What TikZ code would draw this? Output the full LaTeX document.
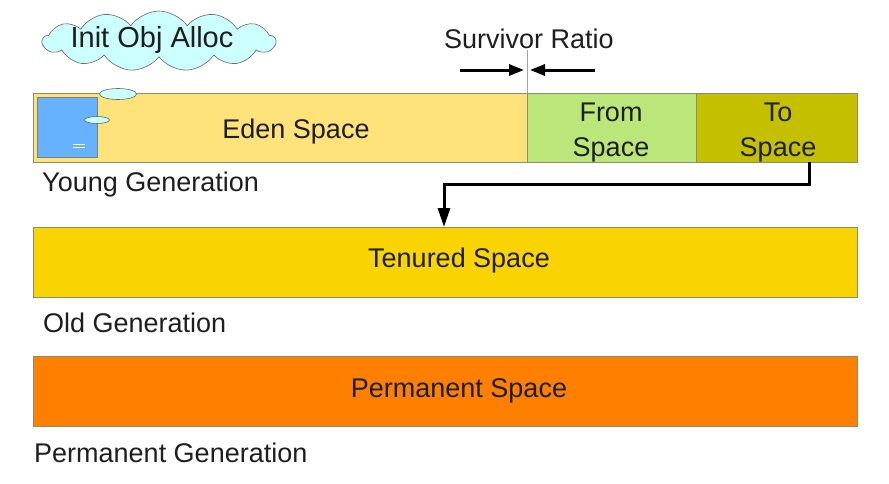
\documentclass[tikz,border=0pt]{standalone}
\usepackage{fontspec}
\setmainfont{Liberation Sans}
\usetikzlibrary{shapes.symbols,shapes.geometric,arrows.meta,calc}
\definecolor{edenc}{RGB}{253,227,122}
\definecolor{fromc}{RGB}{186,230,122}
\definecolor{toc}{RGB}{196,192,0}
\definecolor{tenc}{RGB}{250,212,0}
\definecolor{permc}{RGB}{255,128,0}
\definecolor{bluec}{RGB}{102,178,255}
\definecolor{cloudc}{RGB}{204,255,255}
\definecolor{edgec}{RGB}{140,140,110}
\definecolor{txtc}{RGB}{30,30,30}
\tikzset{
  space/.style={draw=edgec, line width=0.8pt, inner sep=0pt},
  lbl/.style={font=\fontsize{27}{35}\selectfont, text=txtc, inner sep=0pt},
  gen/.style={font=\fontsize{27}{35}\selectfont, text=txtc, anchor=base west, inner sep=0pt},
  conn/.style={line width=3pt, -{Triangle[length=19pt,width=12pt]}},
  ratioarrow/.style={line width=3pt, -{Triangle[length=15pt,width=11pt]}},
  bubble/.style={ellipse, draw=black!60, fill=cloudc, line width=0.6pt, inner sep=0pt}
}
\begin{document}
\begin{tikzpicture}[x=1pt,y=-1pt]
\useasboundingbox (0,0) rectangle (889,483);
% young generation
\node[space, fill=edenc, minimum width=494pt, minimum height=69pt, anchor=north west] (eden) at (33,93) {};
\node[space, fill=fromc, minimum width=169pt, minimum height=69pt, anchor=north west] (from) at (527,93) {};
\node[space, fill=toc, minimum width=161pt, minimum height=69pt, anchor=north west] (to) at (696,93) {};
\node[lbl, anchor=base] (edent) at (296,138) {Eden Space};
\node[lbl, align=center] (fromt) at (611,133) {From\\Space};
\node[lbl, align=center] (tot) at (778,133) {To\\Space};
\node[space, draw=black!50, fill=bluec, minimum width=60pt, minimum height=60pt, anchor=north west] (blue) at (37,97) {};
\node[bubble, minimum width=37pt, minimum height=11pt] (b1) at (118,94) {};
\node[bubble, minimum width=25pt, minimum height=7pt] (b2) at (97,120) {};
\draw[white, line width=0.7pt] (73,144) -- (85,144) (73,147) -- (85,147);
\node[gen] (young) at (42,191) {Young Generation};
% cloud
\node[cloud, cloud puffs=13, cloud puff arc=110, aspect=3.9, draw=black!60, fill=cloudc, line width=0.6pt, minimum width=233pt, minimum height=60pt, inner sep=0pt] (cloud) at (159,41) {};
\node[font=\fontsize{29}{32}\selectfont, text=txtc, anchor=base, inner sep=0pt] (cloudt) at (152,47) {Init Obj Alloc};
% survivor ratio
\node[lbl, anchor=base] (sr) at (529,48) {Survivor Ratio};
\coordinate (srtop) at (527,50);
\draw[black!35, line width=0.8pt] (srtop) -- (from.north west);
\coordinate (al) at (460,70);
\coordinate (alend) at (524,70);
\coordinate (ar) at (595,70);
\coordinate (arend) at (530,70);
\draw[ratioarrow] (al) -- (alend);
\draw[ratioarrow] (ar) -- (arend);
% old generation
\node[space, fill=tenc, minimum width=824pt, minimum height=70pt, anchor=north west] (ten) at (33,227) {};
\node[lbl, anchor=base] (tent) at (459,267) {Tenured Space};
\node[gen] (old) at (43,332) {Old Generation};
% permanent
\node[space, fill=permc, minimum width=824pt, minimum height=70pt, anchor=north west] (perm) at (33,356) {};
\node[lbl, anchor=base] (permt) at (459,397) {Permanent Space};
\node[gen] (pgen) at (34,462) {Permanent Generation};
% connector
\coordinate (cstart) at (809,162);
\coordinate (cend) at (444,227);
\draw[conn] (cstart) |- (444,184) -- (cend);
\end{tikzpicture}
\end{document}
